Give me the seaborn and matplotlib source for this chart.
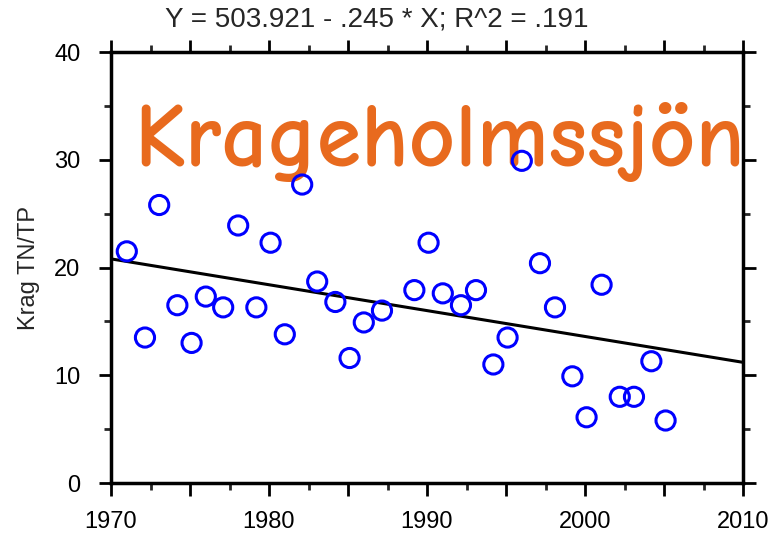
import matplotlib
matplotlib.use("Agg")
import matplotlib.pyplot as plt
import seaborn as sns
import pandas as pd
from matplotlib.ticker import MultipleLocator

years = [1971.0, 1972.15, 1973.05, 1974.2, 1975.1, 1976.0, 1977.1, 1978.05, 1979.2,
         1980.1, 1981.0, 1982.1, 1983.05, 1984.2, 1985.1, 1986.0, 1987.15, 1989.2,
         1990.1, 1991.0, 1992.15, 1993.1, 1994.2, 1995.1, 1996.0, 1997.15, 1998.1,
         1999.2, 2000.1, 2001.05, 2002.2, 2003.1, 2004.2, 2005.1]
tn_tp = [21.5, 13.5, 25.8, 16.5, 13.0, 17.3, 16.3, 23.9, 16.3,
         22.3, 13.8, 27.7, 18.7, 16.8, 11.6, 14.9, 16.0, 17.9,
         22.3, 17.6, 16.5, 17.9, 11.0, 13.5, 29.9, 20.4, 16.3,
         9.9, 6.1, 18.4, 8.0, 8.0, 11.3, 5.8]
line_years = [1970, 2010]
line_values = [20.8, 11.2]
xtick_values = [1970, 1975, 1980, 1985, 1990, 1995, 2000, 2005, 2010]
xtick_labels = ["1970", "", "1980", "", "1990", "", "2000", "", "2010"]
equation = "Y = 503.921 - .245 * X; R^2 = .191"
lake = "Krageholmssjön"
ylabel = "Krag TN/TP"

sns.set_theme(style="white")
plt.rcParams['font.family'] = ['Liberation Sans', 'DejaVu Sans']

df = pd.DataFrame({"year": years, "v": tn_tp})
ldf = pd.DataFrame({"year": line_years, "v": line_values})

fig = plt.figure(figsize=(7.84, 5.36), dpi=100)
ax = fig.add_axes([111/784, 1 - 483/536, (743-111)/784, (483-52)/536])

sns.lineplot(data=ldf, x="year", y="v", ax=ax, color="black", linewidth=2.2)
sns.scatterplot(data=df, x="year", y="v", ax=ax, s=190,
                edgecolor="#0000ff", linewidth=2.2, marker="o", zorder=3)
for c in ax.collections:
    c.set_facecolor("none")
    c.set_edgecolor("#0000ff")

ax.set_xlim(1970, 2010)
ax.set_ylim(0, 40)
ax.set_xticks(xtick_values, labels=xtick_labels)
ax.xaxis.set_minor_locator(MultipleLocator(2.5))
ax.yaxis.set_major_locator(MultipleLocator(10))
ax.yaxis.set_minor_locator(MultipleLocator(5))
ax.tick_params(which="major", direction="out", length=9, width=2, top=True, right=True,
               bottom=True, left=True, labelsize=17, colors="black")
ax.tick_params(which="minor", direction="out", length=5, width=2, top=True, right=True,
               bottom=True, left=True)
ax.tick_params(axis="x", pad=11)
ax.tick_params(axis="y", pad=13)
for s in ax.spines.values():
    s.set_linewidth(2.5)
    s.set_color("black")
    s.set_visible(True)

ax.set_xlabel("")
ax.set_ylabel(ylabel, fontsize=17, labelpad=10)
fig.text(377/784, 1 - 20/536, equation, ha="center", va="center", fontsize=20)
ax.text(1971.5, 29.4, lake, fontsize=65, color="#e86a1e", ha="left", va="baseline",
        fontweight="bold", family=["Comic Neue", "DejaVu Sans"], zorder=2)

fig.savefig("out.png", dpi=100)
